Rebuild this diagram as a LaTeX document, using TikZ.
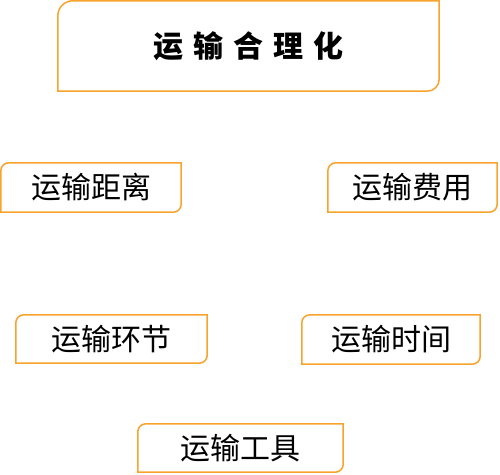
\documentclass[tikz,border=0pt]{standalone}
\usepackage{fontspec}
\newfontfamily\cjk{Noto Sans CJK SC}
\definecolor{boxorange}{RGB}{247,163,45}
\tikzset{
  lbl/.style={inner sep=0pt, font=\cjk\fontsize{30}{36}\selectfont, text=black},
  titlelbl/.style={inner sep=0pt, font=\cjk\bfseries\fontsize{30}{36}\selectfont, text=black},
  boxline/.style={draw=boxorange, line width=1.5pt},
}
\newcommand{\cornerbox}[3]{% node, rTL, rBR
  \draw[boxline] (#1.south west) -- ([yshift=-#2pt]#1.north west)
    arc[start angle=180, end angle=90, radius=#2pt] -- (#1.north east)
    -- ([yshift=#3pt]#1.south east)
    arc[start angle=0, end angle=-90, radius=#3pt] -- cycle;}
\begin{document}
\begin{tikzpicture}[x=1pt,y=1pt]
\useasboundingbox (0,0) rectangle (500,474);
\node[titlelbl, minimum width=381pt, minimum height=90pt] (main) at (248.5,428)
  {运\hspace{10pt}输\hspace{10pt}合\hspace{10pt}理\hspace{10pt}化};
\node[lbl, minimum width=180pt, minimum height=49pt] (dist) at (91,286.5) {运输距离};
\node[lbl, minimum width=169pt, minimum height=49pt] (cost) at (412.5,286.5) {运输费用};
\node[lbl, minimum width=191pt, minimum height=48pt] (link) at (111.5,135) {运输环节};
\node[lbl, minimum width=178pt, minimum height=49pt] (time) at (391,134.5) {运输时间};
\node[lbl, minimum width=205pt, minimum height=48pt] (tool) at (240.5,26) {运输工具};
\cornerbox{main}{15}{12}
\cornerbox{dist}{8}{8}
\cornerbox{cost}{8}{8}
\cornerbox{link}{8}{8}
\cornerbox{time}{8}{8}
\cornerbox{tool}{8}{8}
\end{tikzpicture}
\end{document}
